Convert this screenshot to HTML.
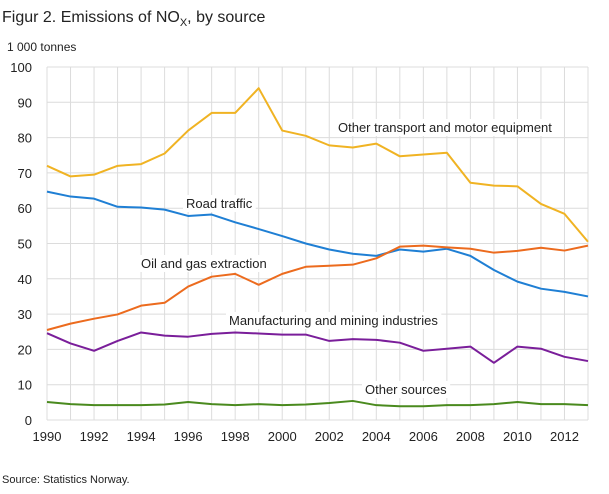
<!DOCTYPE html>
<html><head><meta charset="utf-8"><style>
body{margin:0;background:#fff;font-family:"Liberation Sans","DejaVu Sans",sans-serif}
svg text{font-family:"Liberation Sans","DejaVu Sans",sans-serif}
</style></head><body>
<svg id="c" width="609" height="489" xmlns="http://www.w3.org/2000/svg">
<text x="2" y="22" font-size="16" fill="#222">Figur 2. Emissions of NO<tspan font-size="11" dy="4">X</tspan><tspan dy="-4">, by source</tspan></text>
<text x="7" y="51" font-size="12" fill="#222">1 000 tonnes</text>
<text x="2" y="483" font-size="11" fill="#222">Source: Statistics Norway.</text>
<g id="grid"></g><g id="series"></g><g id="labels"></g>
</svg>
<script>
const years=[];for(let y=1990;y<=2013;y++)years.push(y);
const otherTransport=[72,69,69.5,72,72.5,75.5,82,87,87,94,82,80.5,77.8,77.2,78.3,74.7,75.2,75.7,67.2,66.4,66.2,61.2,58.4,50.5];
const roadTraffic=[64.7,63.3,62.7,60.4,60.2,59.6,57.8,58.2,56,54.1,52.1,50,48.3,47.1,46.5,48.3,47.7,48.5,46.5,42.5,39.2,37.2,36.3,35];
const oilGas=[25.5,27.3,28.7,29.9,32.4,33.2,37.8,40.6,41.4,38.3,41.4,43.4,43.7,44,45.8,49.1,49.4,48.9,48.5,47.4,47.9,48.8,48,49.4];
const manufacturing=[24.6,21.7,19.6,22.4,24.8,23.9,23.6,24.4,24.8,24.5,24.2,24.2,22.4,22.9,22.7,21.9,19.6,20.2,20.8,16.2,20.8,20.2,17.9,16.7];
const otherSources=[5.1,4.5,4.2,4.2,4.2,4.4,5.1,4.5,4.2,4.5,4.2,4.4,4.8,5.4,4.2,3.9,3.9,4.2,4.2,4.5,5.1,4.5,4.5,4.2];
const yTicks=[0,10,20,30,40,50,60,70,80,90,100];
const xTickLabels=[1990,1992,1994,1996,1998,2000,2002,2004,2006,2008,2010,2012];
const NS="http://www.w3.org/2000/svg";
const L=47,R=588,T=67,B=420;
const x=v=>L+(v-1990)*(R-L)/23, y=v=>B-v*(B-T)/100;
function mk(tag,parent,attrs){const e=document.createElementNS(NS,tag);for(const k in attrs)e.setAttribute(k,attrs[k]);parent.appendChild(e);return e;}
const g=document.getElementById('grid'),s=document.getElementById('series'),lb=document.getElementById('labels');
years.forEach(yr=>{const l=mk('line',g,{x1:x(yr),x2:x(yr),y1:T,y2:B,stroke:'#dcdcdc','stroke-width':1});

});
yTicks.forEach(v=>{const l=mk('line',g,{x1:L,x2:R,y1:y(v),y2:y(v),stroke:'#dcdcdc','stroke-width':1});


const t=mk('text',g,{x:32,y:y(v)+5,'font-size':13,'text-anchor':'end',fill:'#222'});t.textContent=v;

});
xTickLabels.forEach(v=>{const t=mk('text',g,{x:x(v),y:441,'font-size':13,'text-anchor':'middle',fill:'#222'});t.textContent=v;

});
const ser=[[otherTransport,'#f0b323','other-transport-line'],[roadTraffic,'#1f7fd4','road-traffic-line'],[oilGas,'#ec6b1e','oil-gas-line'],[manufacturing,'#7a1e9a','manufacturing-line'],[otherSources,'#4a8a1e','other-sources-line']];
ser.forEach(([d,c,n])=>{const p=mk('polyline',s,{points:d.map((v,i)=>x(years[i])+','+y(v)).join(' '),fill:'none',stroke:c,'stroke-width':2,'stroke-linejoin':'round'});

});
const labs=[['Other transport and motor equipment',338,132,'label-other-transport'],['Road traffic',186,208,'label-road-traffic'],['Oil and gas extraction',141,268,'label-oil-gas'],['Manufacturing  and mining industries',229,325,'label-manufacturing'],['Other sources',365,394,'label-other-sources']];
labs.forEach(([tx,px,py,n])=>{const t=mk('text',lb,{x:px,y:py,'font-size':13,fill:'#222'});t.textContent=tx;


const bb=t.getBBox();const r=mk('rect',lb,{x:bb.x-3,y:bb.y-1,width:bb.width+6,height:bb.height+2,fill:'#fff'});lb.insertBefore(r,t);

});
</script>
</body></html>
